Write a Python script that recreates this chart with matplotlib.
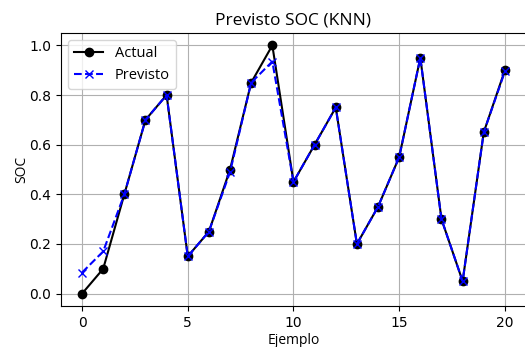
import matplotlib
matplotlib.use("Agg")
import matplotlib.pyplot as plt

ejemplo = list(range(21))
actual = [0.0, 0.10, 0.40, 0.70, 0.80, 0.15, 0.25, 0.50, 0.85, 1.00, 0.45,
          0.60, 0.75, 0.20, 0.35, 0.55, 0.95, 0.30, 0.05, 0.65, 0.90]
previsto = [0.085, 0.17, 0.40, 0.70, 0.80, 0.15, 0.25, 0.49, 0.85, 0.935, 0.45,
            0.60, 0.75, 0.20, 0.35, 0.55, 0.95, 0.30, 0.05, 0.65, 0.895]

txt_font = "Open Sans"

fig = plt.figure(figsize=(5.25, 3.47), dpi=100)
ax = fig.add_axes([0.116, 0.118, 0.886, 0.787])

ax.plot(ejemplo, actual, "o-", color="black", label="Actual")
ax.plot(ejemplo, previsto, "x--", color="blue", label="Previsto")

ax.set_title("Previsto SOC (KNN)", family=txt_font, fontsize=12.5)
ax.set_xlabel("Ejemplo", family=txt_font, fontsize=10, labelpad=2)
ax.set_ylabel("SOC", family=txt_font, fontsize=10, labelpad=0)
ax.set_xticks([0, 5, 10, 15, 20])
ax.set_yticks([0.0, 0.2, 0.4, 0.6, 0.8, 1.0])
ax.grid(True)
ax.legend(loc="upper left", prop={"family": txt_font, "size": 10.5})

plt.savefig("out.png", dpi=100)
